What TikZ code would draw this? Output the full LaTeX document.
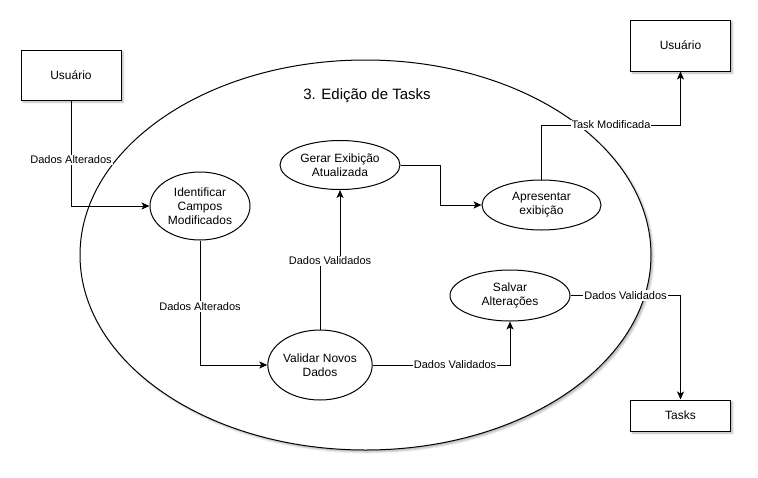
\documentclass[tikz,border=0pt]{standalone}
\usepackage{fontspec}
\setmainfont{Liberation Sans}
\usetikzlibrary{arrows.meta,shapes.geometric,shadows.blur}
\begin{document}
\begin{tikzpicture}[x=1pt,y=-1pt,line width=1pt,
  shd/.style={blur shadow={shadow xshift=2pt,shadow yshift=-2pt,shadow blur radius=2pt,shadow opacity=30}},
  extbox/.style={draw,fill=white,inner sep=0pt,minimum width=100pt,minimum height=50pt,font=\fontsize{12}{14}\selectfont,shd},
  proc/.style={draw,ellipse,fill=white,inner sep=0pt,align=center,font=\fontsize{12}{14}\selectfont},
  lbl/.style={fill=white,inner sep=1pt,font=\fontsize{11}{13}\selectfont},
  arr/.style={-{Stealth[length=8pt,width=7pt,inset=2pt]}}
]
\useasboundingbox (0,0) rectangle (758,477);
\node[draw,ellipse,fill=white,minimum width=571pt,minimum height=390pt,inner sep=0pt,shd] (main) at (365.5,255) {};
\node[font=\fontsize{15}{18}\selectfont] (title) at (367,96) {3. Edição de Tasks};

\node[extbox] (u1) at (71,75) {Usuário};
\node[extbox,minimum height=51pt] (u2) at (680.5,45.5) {Usuário};
\node[extbox,minimum height=31pt] (tasks) at (680.5,415.5) {Tasks};

\node[proc,minimum width=100pt,minimum height=68pt] (ident) at (200,206) {Identificar\\Campos\\Modificados};
\node[proc,minimum width=120pt,minimum height=49pt] (gerar) at (340,165) {Gerar Exibição\\Atualizada};
\node[proc,minimum width=119pt,minimum height=50pt] (apres) at (541.5,205) {Apresentar\\exibição};
\node[proc,minimum width=120pt,minimum height=51pt] (salvar) at (510,295.5) {Salvar\\Alterações};
\node[proc,minimum width=100pt,minimum height=70pt] (valid) at (320,365) {Validar Novos\\Dados};

\coordinate (c3) at (330,261);
\coordinate (c4) at (440,0);
\coordinate (c5) at (0,125);

\draw[arr] (u1.south) -- node[lbl,pos=0.56]{Dados Alterados} (u1.south |- ident.west) -- (ident.west);
\draw[arr] (ident.south) -- node[lbl,pos=0.53]{Dados Alterados} (ident.south |- valid.west) -- (valid.west);
\draw[arr] (valid.north) -- (valid.north |- c3) -- node[lbl]{Dados Validados} (gerar.south |- c3) -- (gerar.south);
\draw[arr] (gerar.east) -- (gerar.east -| c4) -- (c4 |- apres.west) -- (apres.west);
\draw[arr] (apres.north) -- (apres.north |- c5) -- node[lbl]{Task Modificada} (u2.south |- c5) -- (u2.south);
\draw[arr] (valid.east) -- node[lbl,pos=0.6]{Dados Validados} (valid.east -| salvar.south) -- (salvar.south);
\draw[arr] (salvar.east) -- node[lbl]{Dados Validados} (salvar.east -| tasks.north) -- (tasks.north);
\end{tikzpicture}
\end{document}
